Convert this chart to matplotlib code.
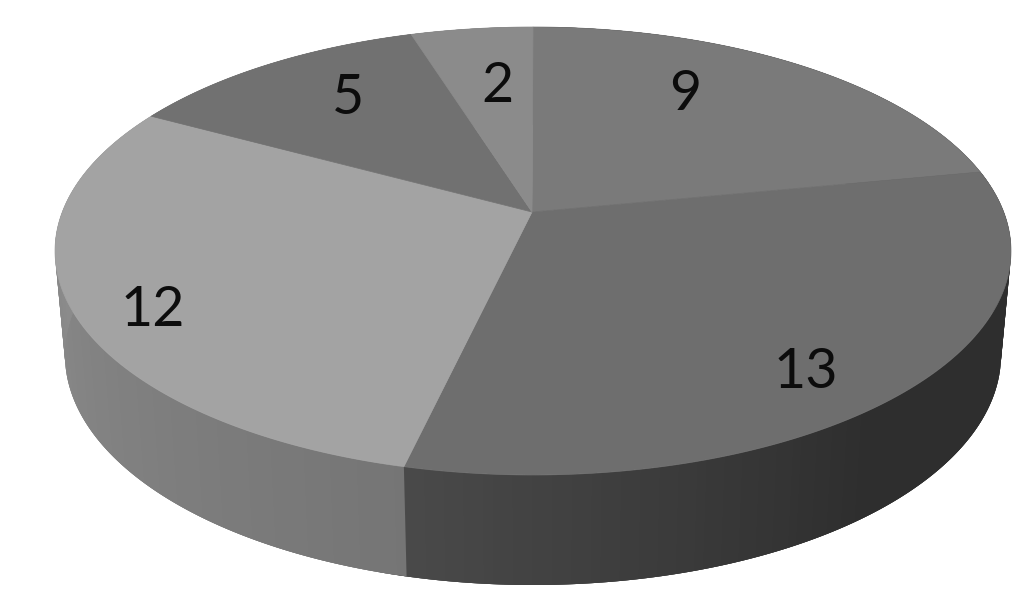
import numpy as np
import matplotlib
matplotlib.use("Agg")
import matplotlib.pyplot as plt

labels = ["9", "13", "12", "5", "2"]
values = [9, 13, 12, 5, 2]

top_colors = ["#7a7a7a", "#6e6e6e", "#a3a3a3", "#717171", "#8b8b8b"]
# side shade at start and end of each slice, going clockwise
side_shades = [(0.18, 0.18), (0.18, 0.29), (0.46, 0.57), (0.50, 0.50), (0.50, 0.50)]
label_pos = [(685, 94), (806, 372), (153, 311), (348, 98), (497, 87)]

# ellipses of the top and the bottom of the disc, in pixels
top_ell = (533, 251, 478, 224)
bot_ell = (533, 355, 468, 230)
tilt = -0.174  # moves the pie centre up from the ellipse centre


def project(deg, ell):
  cx, cy, rx, ry = ell
  a = np.radians(deg)
  u = np.sin(a)
  v = -np.cos(a)
  d = 1 + tilt * v
  return cx + rx * u * np.sqrt(1 - tilt ** 2) / d, cy + ry * (v + tilt) / d


fig = plt.figure(figsize=(10.23, 6.01), dpi=100)
ax = fig.add_axes([0, 0, 1, 1])
ax.set_xlim(0, 1023)
ax.set_ylim(601, 0)
ax.axis("off")

edges = np.cumsum([0] + values) / sum(values) * 360

# side first, strips overlap the next one so no seams show between them
for i in range(len(values)):
  steps = np.arange(edges[i], edges[i + 1] + 1, 1.0)
  steps[-1] = edges[i + 1]
  for j in range(len(steps) - 1):
    part = np.linspace(steps[j], min(steps[j] + 3, edges[-1]), 5)
    x0, y0 = project(part, top_ell)
    x1, y1 = project(part, bot_ell)
    t = j / max(len(steps) - 2, 1)
    # dark slice stays flat until past the lower right
    if i == 1:
      t = max(0, (t - 0.55) / 0.45)
    g = side_shades[i][0] + (side_shades[i][1] - side_shades[i][0]) * t
    if i == 2:
      # lightest part sits at the far left of the slice
      g = 0.46 + 0.12 * (j / (len(steps) - 2))
    ax.fill(np.r_[x0, x1[::-1]], np.r_[y0, y1[::-1]], color=str(g), lw=0, zorder=1)

# top faces
px = 532
py = top_ell[1] + top_ell[3] * tilt
for i in range(len(values)):
  steps = np.linspace(edges[i], edges[i + 1], 120)
  x, y = project(steps, top_ell)
  ax.fill(np.r_[px, x], np.r_[py, y], color=top_colors[i], lw=0.5, zorder=2)

for lab, (x, y) in zip(labels, label_pos):
  ax.text(x, y, lab, fontsize=40, family="Lato", color="#0c0c0c",
          ha="center", va="center", zorder=3)

fig.savefig("out.png", dpi=100, facecolor="white")
